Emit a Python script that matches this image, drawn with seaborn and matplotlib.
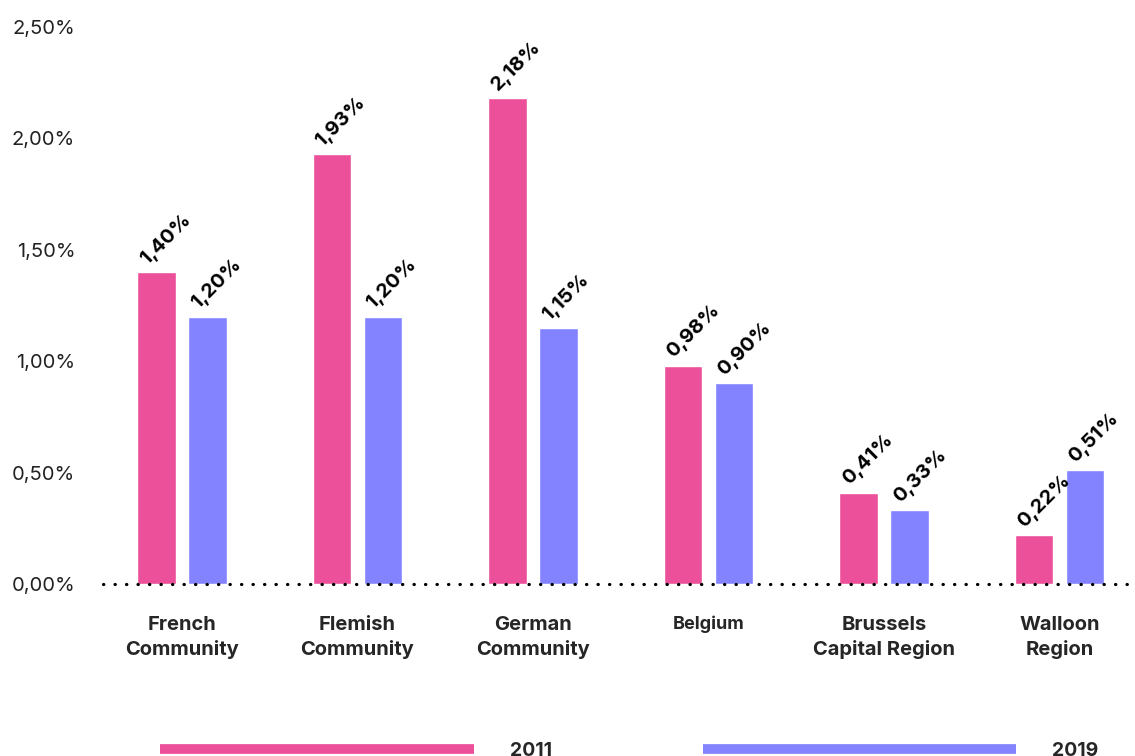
import matplotlib
matplotlib.use("Agg")
import matplotlib.pyplot as plt
import seaborn as sns
import pandas as pd
from matplotlib.ticker import FuncFormatter
from matplotlib.lines import Line2D

categories = ["French\nCommunity", "Flemish\nCommunity", "German\nCommunity",
              "Belgium", "Brussels\nCapital Region", "Walloon\nRegion"]
values_2011 = [1.40, 1.93, 2.18, 0.98, 0.41, 0.22]
values_2019 = [1.20, 1.20, 1.15, 0.90, 0.33, 0.51]
years = ["2011", "2019"]
yticks = [0, 0.5, 1.0, 1.5, 2.0, 2.5]

PINK = "#EC509A"
BLUE = "#8383FF"

df = pd.DataFrame({
    "category": categories * 2,
    "value": values_2011 + values_2019,
    "year": [years[0]] * len(categories) + [years[1]] * len(categories),
})

sns.set_theme(style="white")
plt.rcParams["font.family"] = ["Inter", "DejaVu Sans"]

fig = plt.figure(figsize=(11.35, 7.56), dpi=100)
ax = fig.add_axes([103 / 1135, 1 - 584 / 756, (1135 - 103) / 1135, (584 - 27) / 756])

sns.barplot(data=df, x="category", y="value", hue="year", order=categories,
            hue_order=years, palette=[PINK, BLUE], width=0.58, gap=0.25,
            ax=ax, legend=False, saturation=1)

ax.set_xlim(-0.45, 5.43)
ax.set_ylim(0, 2.5)
ax.set_yticks(yticks)
ax.yaxis.set_major_formatter(FuncFormatter(lambda v, p: f"{v:.2f}".replace(".", ",") + "%"))
ax.tick_params(axis="y", length=0, pad=20, labelsize=14.5, labelcolor="#222222")
ax.tick_params(axis="x", length=0, pad=23, labelsize=14.5)
for lbl in ax.get_xticklabels():
    lbl.set_fontweight("bold")
    lbl.set_linespacing(1.4)
    if lbl.get_text() == "Belgium":
        lbl.set_fontsize(13)
ax.set_xlabel("")
ax.set_ylabel("")
for s in ax.spines.values():
    s.set_visible(False)

ax.axhline(0, color="black", linestyle=(0, (0.1, 3.5)), linewidth=2.3,
           dash_capstyle="round", clip_on=False, zorder=5)

for container in ax.containers:
    for bar in container:
        h = bar.get_height()
        ax.annotate(f"{h:.2f}".replace(".", ",") + "%",
                    xy=(bar.get_x(), h), xytext=(9, 3), textcoords="offset points",
                    rotation=45, rotation_mode="anchor", ha="left", va="bottom",
                    fontsize=14.5, fontweight="bold", color="black",
                    annotation_clip=False)

handles = [Line2D([0], [0], color=PINK, linewidth=7, solid_capstyle="butt"),
           Line2D([0], [0], color=BLUE, linewidth=7, solid_capstyle="butt")]
leg = fig.legend(handles, years, loc="center", bbox_to_anchor=(0.5546, 0.007),
                 ncol=2, frameon=False, handlelength=16.1, handletextpad=1.85,
                 columnspacing=7.8, prop={"weight": "bold", "size": 14})

fig.savefig("out.png", dpi=100)
